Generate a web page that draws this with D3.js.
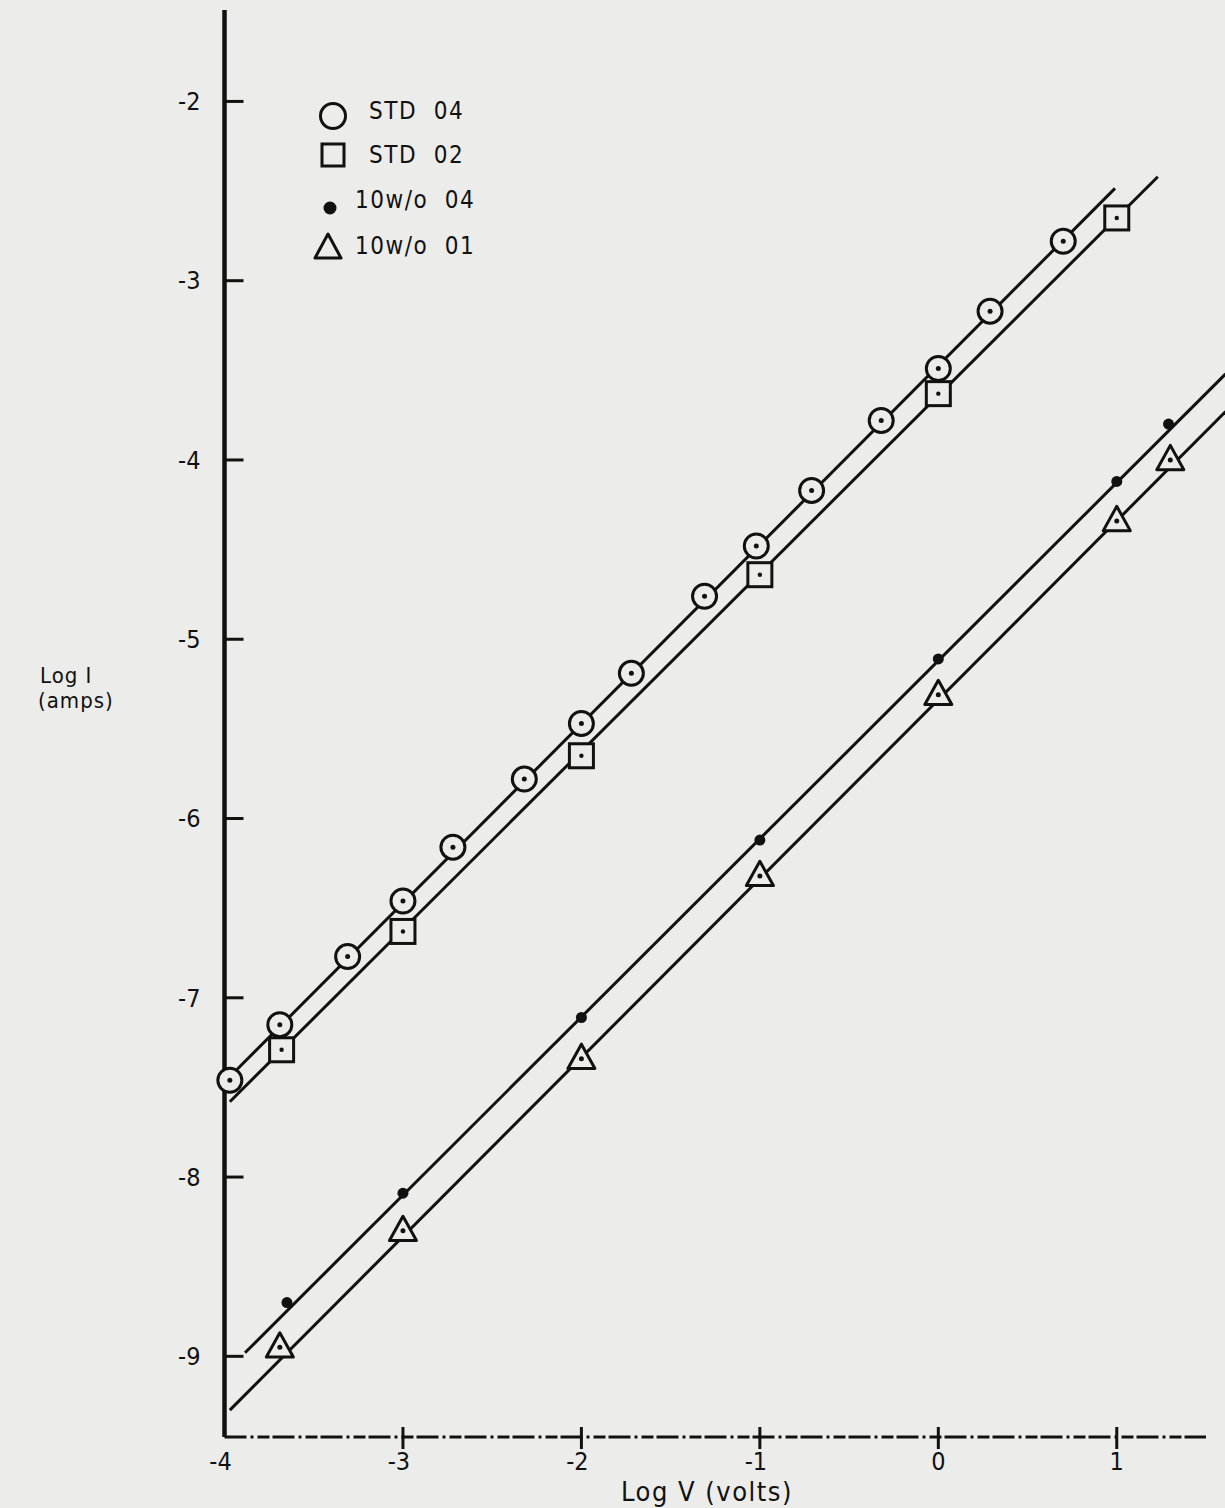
<!DOCTYPE html>
<html lang="en">
<head>
    <meta charset="UTF-8">
    <title>Log I vs Log V</title>
    <script src="https://d3js.org/d3.v7.min.js"></script>
    <style>
        body { margin: 0; background: #ececea; }
        svg { display: block; }
        .lbl {
            font-family: "DejaVu Sans Condensed", "Liberation Sans Narrow", "DejaVu Sans", sans-serif;
            fill: #111;
        }
    </style>
</head>
<body>
    <div id="chart"></div>
    <script>
        // Log V (volts) / Log I (amps) readings
        const std04X = [-3.97, -3.69, -3.31, -3.0, -2.72, -2.32, -2.0, -1.72, -1.31, -1.02, -0.71, -0.32, 0.0, 0.29, 0.7];
        const std04Y = [-7.46, -7.15, -6.77, -6.46, -6.16, -5.78, -5.47, -5.19, -4.76, -4.48, -4.17, -3.78, -3.49, -3.17, -2.78];
        const std02X = [-3.68, -3.0, -2.0, -1.0, 0.0, 1.0];
        const std02Y = [-7.29, -6.63, -5.65, -4.64, -3.63, -2.65];
        const wo04X = [-3.65, -3.0, -2.0, -1.0, 0.0, 1.0, 1.29];
        const wo04Y = [-8.70, -8.09, -7.11, -6.12, -5.11, -4.12, -3.80];
        const wo01X = [-3.69, -3.0, -2.0, -1.0, 0.0, 1.0, 1.3];
        const wo01Y = [-8.95, -8.30, -7.34, -6.32, -5.31, -4.34, -4.00];

        // hand-drawn fit lines, end points in data units
        const fitStd04 = [[-4.0, -7.47], [0.99, -2.485]];
        const fitStd02 = [[-3.97, -7.58], [1.23, -2.42]];
        const fitWo04 = [[-3.885, -8.98], [1.61, -3.52]];
        const fitWo01 = [[-3.97, -9.30], [1.61, -3.73]];

        const xTicks = [-4, -3, -2, -1, 0, 1];
        const yTicks = [-2, -3, -4, -5, -6, -7, -8, -9];
        const legendNames = ["STD 04", "STD 02", "10w/o 04", "10w/o 01"];

        const W = 1225, H = 1508;
        const bg = "#ececea";
        const ink = "#111";

        const svg = d3.select("#chart").append("svg")
            .attr("width", W)
            .attr("height", H);

        svg.append("rect").attr("width", W).attr("height", H).attr("fill", bg);

        const x = d3.scaleLinear().domain([-4, 1.5]).range([224.5, 1206]);
        const y = d3.scaleLinear().domain([-9.45, -1.49]).range([1437, 10]);

        // y axis
        svg.append("line")
            .attr("x1", x(-4)).attr("x2", x(-4))
            .attr("y1", y(-1.49)).attr("y2", y(-9.45))
            .attr("stroke", ink).attr("stroke-width", 4.5);

        svg.append("g").selectAll("line")
            .data(yTicks)
            .enter().append("line")
              .attr("x1", x(-4)).attr("x2", x(-4) + 19)
              .attr("y1", d => y(d)).attr("y2", d => y(d))
              .attr("stroke", ink).attr("stroke-width", 3);

        svg.append("g").selectAll("text")
            .data(yTicks)
            .enter().append("text")
              .attr("class", "lbl")
              .attr("x", x(-4) - 24)
              .attr("y", d => y(d))
              .attr("dy", "0.35em")
              .attr("text-anchor", "end")
              .style("font-size", "25px")
              .text(d => d);

        // x axis (broken dash-dot line as in the scan)
        svg.append("line")
            .attr("x1", x(-4)).attr("x2", x(1.5))
            .attr("y1", y(-9.45)).attr("y2", y(-9.45))
            .attr("stroke", ink).attr("stroke-width", 3)
            .attr("stroke-dasharray", "22,4,3,4,12,3");

        svg.append("g").selectAll("line")
            .data(xTicks.filter(d => d > -4))
            .enter().append("line")
              .attr("x1", d => x(d)).attr("x2", d => x(d))
              .attr("y1", y(-9.45) - 10).attr("y2", y(-9.45) + 12)
              .attr("stroke", ink).attr("stroke-width", 3);

        svg.append("g").selectAll("text")
            .data(xTicks)
            .enter().append("text")
              .attr("class", "lbl")
              .attr("x", d => x(d) + (d < 0 ? -4 : 0))
              .attr("y", y(-9.45) + 33)
              .attr("text-anchor", "middle")
              .style("font-size", "25px")
              .text(d => d);

        svg.append("text")
            .attr("class", "lbl")
            .attr("x", 707)
            .attr("y", 1501)
            .attr("text-anchor", "middle")
            .style("font-size", "27px")
            .style("letter-spacing", "1.5px")
            .text("Log V (volts)");

        svg.append("text")
            .attr("class", "lbl")
            .attr("x", 40).attr("y", 683)
            .style("font-size", "22px")
            .style("letter-spacing", "1px")
            .text("Log I");
        svg.append("text")
            .attr("class", "lbl")
            .attr("x", 38).attr("y", 708)
            .style("font-size", "22px")
            .style("letter-spacing", "1px")
            .text("(amps)");

        // fit lines
        const line = d3.line().x(d => x(d[0])).y(d => y(d[1]));
        svg.append("g").selectAll("path")
            .data([fitStd04, fitStd02, fitWo04, fitWo01])
            .enter().append("path")
              .attr("d", line)
              .attr("fill", "none")
              .attr("stroke", ink)
              .attr("stroke-width", 3);

        const zip = (xs, ys) => xs.map((v, i) => [v, ys[i]]);

        // marker drawing
        function circleMark(g, r) {
            g.append("circle").attr("r", r).attr("fill", bg).attr("stroke", ink).attr("stroke-width", 3);
            g.append("circle").attr("r", 2.5).attr("fill", ink);
        }
        function squareMark(g, s) {
            g.append("rect").attr("x", -s / 2).attr("y", -s / 2).attr("width", s).attr("height", s)
                .attr("fill", bg).attr("stroke", ink).attr("stroke-width", 3);
            g.append("circle").attr("r", 2.2).attr("fill", ink);
        }
        function dotMark(g, r) {
            g.append("circle").attr("r", r).attr("fill", ink);
        }
        function triMark(g, s) {
            const h = s * 0.9;
            g.append("path")
                .attr("d", `M0,${-h * 0.6}L${s / 2},${h * 0.4}L${-s / 2},${h * 0.4}Z`)
                .attr("fill", bg).attr("stroke", ink).attr("stroke-width", 3)
                .attr("stroke-linejoin", "round");
            g.append("circle").attr("r", 2.5).attr("fill", ink);
        }

        function drawSeries(pts, draw) {
            svg.append("g").selectAll("g")
                .data(pts)
                .enter().append("g")
                  .attr("transform", d => `translate(${x(d[0])},${y(d[1])})`)
                  .each(function () { draw(d3.select(this)); });
        }

        drawSeries(zip(std04X, std04Y), g => circleMark(g, 12));
        drawSeries(zip(std02X, std02Y), g => squareMark(g, 24));
        drawSeries(zip(wo04X, wo04Y), g => dotMark(g, 5.5));
        drawSeries(zip(wo01X, wo01Y), g => triMark(g, 27));

        // legend
        const legendMarks = [
            { name: legendNames[0], mx: 333, my: 116, tx: 369, ty: 111, draw: g => g.append("circle").attr("r", 12.5).attr("fill", "none").attr("stroke", ink).attr("stroke-width", 3) },
            { name: legendNames[1], mx: 333, my: 155, tx: 369, ty: 155, draw: g => g.append("rect").attr("x", -11).attr("y", -11).attr("width", 22).attr("height", 22).attr("fill", "none").attr("stroke", ink).attr("stroke-width", 3) },
            { name: legendNames[2], mx: 330, my: 208, tx: 355, ty: 200, draw: g => dotMark(g, 6.5) },
            { name: legendNames[3], mx: 328, my: 247, tx: 355, ty: 246, draw: g => g.append("path").attr("d", "M0,-13L13,11L-13,11Z").attr("fill", "none").attr("stroke", ink).attr("stroke-width", 3).attr("stroke-linejoin", "round") }
        ];

        const legend = svg.append("g").selectAll("g")
            .data(legendMarks)
            .enter().append("g");

        legend.append("g")
            .attr("transform", d => `translate(${d.mx},${d.my})`)
            .each(function (d) { d.draw(d3.select(this)); });

        legend.append("text")
            .attr("class", "lbl")
            .attr("x", d => d.tx)
            .attr("y", d => d.ty)
            .attr("dy", "0.35em")
            .style("font-size", "24px")
            .style("letter-spacing", "1.5px")
            .style("white-space", "pre")
            .text(d => d.name.replace(" ", "  "));
    </script>
</body>
</html>
